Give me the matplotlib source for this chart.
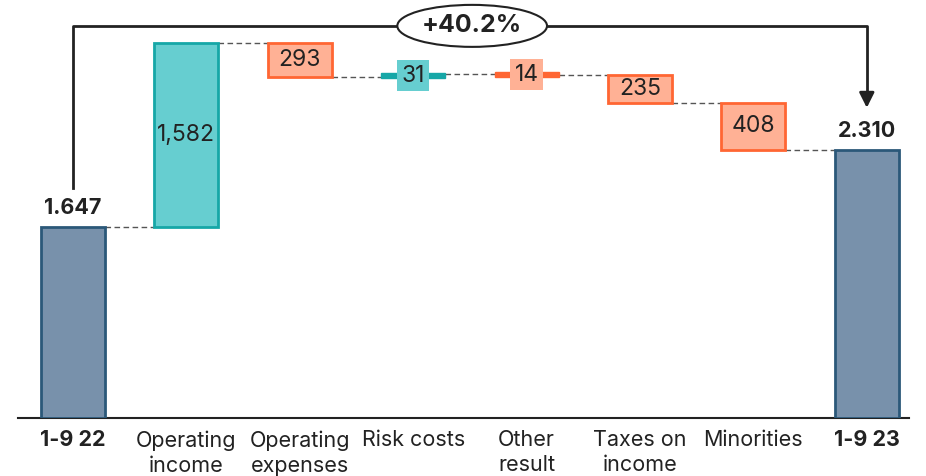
import matplotlib.pyplot as plt
from matplotlib.patches import Ellipse

plt.rcParams['font.family'] = ['Inter', 'DejaVu Sans']

categories = ['1-9 22', 'Operating\nincome', 'Operating\nexpenses', 'Risk costs',
              'Other\nresult', 'Taxes on\nincome', 'Minorities', '1-9 23']
start_value = 1647
changes = [1582, -293, 31, -14, -235, -408]
end_value = 2310
total_labels = ['1.647', '2.310']
change_labels = ['1,582', '293', '31', '14', '235', '408']
growth_label = '+40.2%'

total_face, total_edge = '#7891AB', '#2B5879'
pos_face, pos_edge = '#66CED0', '#16A7A7'
neg_face, neg_edge = '#FFB195', '#FF6633'
text_col = '#222222'

fig = plt.figure(figsize=(9.26, 4.76), dpi=100)
ax = fig.add_axes([18 / 926, 1 - 418 / 476, 891 / 926, 418 / 476])
slot = 113.4
ax.set_xlim(-55 / slot, (891 - 55) / slot)
ax.set_ylim(0, 3603)
w = 0.565

# totals
ax.bar([0, 7], [start_value, end_value], width=w, color=total_face,
       edgecolor=total_edge, linewidth=2, zorder=3)
ax.text(0, start_value + 75, total_labels[0], ha='center', va='bottom',
        fontsize=15.5, fontweight='bold', color=text_col)
ax.text(7, end_value + 75, total_labels[1], ha='center', va='bottom',
        fontsize=15.5, fontweight='bold', color=text_col)

# changes
level = start_value
levels = [level]
for i, (c, lab) in enumerate(zip(changes, change_labels), start=1):
    lo, hi = min(level, level + c), max(level, level + c)
    face, edge = (pos_face, pos_edge) if c > 0 else (neg_face, neg_edge)
    mid = (lo + hi) / 2
    if abs(c) < 100:
        ax.bar(i, 40, bottom=mid - 20, width=w, color=edge, edgecolor=edge,
               linewidth=1, zorder=3)
        pad = 0.2
    else:
        ax.bar(i, hi - lo, bottom=lo, width=w, color=face, edgecolor=edge,
               linewidth=2, zorder=3)
        pad = 0.04
    ax.text(i, mid, lab, ha='center', va='center', fontsize=16.5, color=text_col,
            zorder=4, bbox=dict(boxstyle='square,pad=%s' % pad, facecolor=face,
                                edgecolor='none'))
    level += c
    levels.append(level)

# connectors
for i, lv in enumerate(levels):
    ax.plot([i + w / 2, i + 1 - w / 2], [lv, lv], ls=(0, (4, 2.5)), lw=1,
            color='#555555', zorder=2)

# growth bracket
yb = 3380
xm = 3.52
ax.plot([0, 0, xm], [1983, yb, yb], color=text_col, lw=2, zorder=2)
ax.plot([xm, 7, 7], [yb, yb, 2780], color=text_col, lw=2, zorder=2)
ax.annotate('', xy=(7, 2650), xytext=(7, 2800),
            arrowprops=dict(arrowstyle='-|>,head_length=0.9,head_width=0.45',
                            color=text_col, lw=2))
ax.add_patch(Ellipse((xm, yb), 1.32, 362, facecolor='white',
                     edgecolor=text_col, lw=1.5, zorder=4))
ax.text(xm, yb, growth_label, ha='center', va='center', fontsize=18,
        fontweight='bold', color=text_col, zorder=5)

ax.set_xticks(range(len(categories)))
ax.set_xticklabels(categories, fontsize=15.5, color=text_col, linespacing=1.3)
for t in (ax.get_xticklabels()[0], ax.get_xticklabels()[-1]):
    t.set_fontweight('bold')
ax.tick_params(axis='x', length=0, pad=9)
ax.set_yticks([])
for s in ['top', 'right', 'left']:
    ax.spines[s].set_visible(False)
ax.spines['bottom'].set_linewidth(1.5)
ax.spines['bottom'].set_color(text_col)

fig.savefig('out.png', dpi=100)
